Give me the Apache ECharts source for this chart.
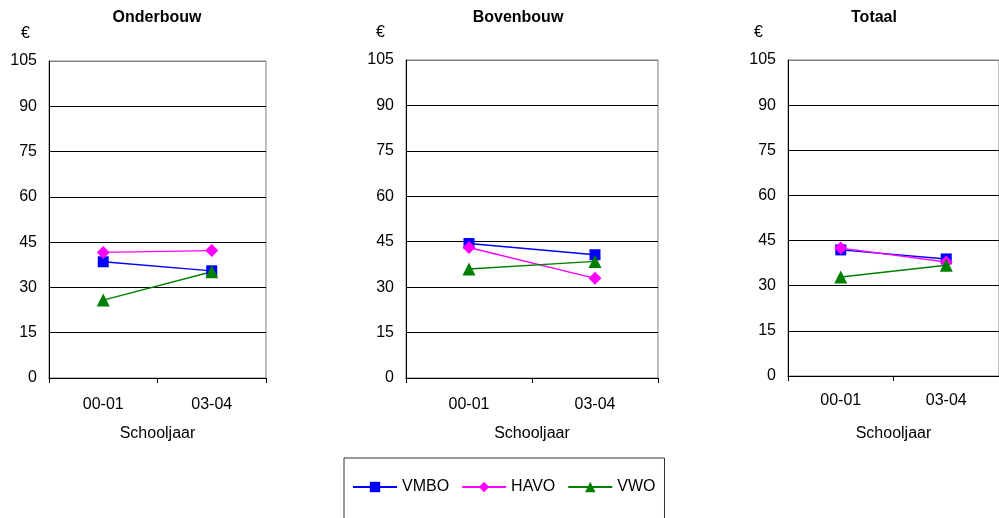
<!DOCTYPE html>
<html><head><meta charset="utf-8">
<script src="https://cdn.jsdelivr.net/npm/echarts@6/dist/echarts.min.js"></script>
<style>html,body{margin:0;padding:0;background:#fff}#c{width:999px;height:518px}</style>
</head><body><div id="c"></div>
<script>
// ---- data ----
const categories = ['00-01', '03-04'];
const panelTitles = ['Onderbouw', 'Bovenbouw', 'Totaal'];
const seriesNames = ['VMBO', 'HAVO', 'VWO'];
const yMin = 0, yMax = 105, yStep = 15;
const yAxisName = '€';
const xAxisName = 'Schooljaar';
const vmbo = [[38.5, 35.5], [44.4, 40.7], [41.9, 38.9]];
const havo = [[41.6, 42.2], [43.1, 32.9], [42.5, 37.9]];
const vwo  = [[25.8, 35.2], [36.0, 38.5], [32.9, 36.8]];

// ---- layout / style ----
const FONT = '"Liberation Sans", Arial, sans-serif';
const grids = [
  {left: 49, top: 61, width: 217, height: 317},
  {left: 406, top: 60, width: 252, height: 318},
  {left: 788, top: 60, width: 219, height: 316}
];
const titleX = [157, 518, 874];
const euroPad = [19, 21, 25];
const xLabelMargin = [19, 19, 17];
const xNameGap = [48, 48, 50];
const colors = ['#0000FF', '#FF00FF', '#008000'];
const symbols = ['rect', 'diamond', 'triangle'];
const symbolSizes = [11, 13, 13];
const allData = [vmbo, havo, vwo];

const titles = panelTitles.map((t, i) => ({
  text: t, left: titleX[i], top: 10, textAlign: 'center', padding: 0,
  textStyle: {fontFamily: FONT, fontSize: 16, fontWeight: 'bold', color: '#000'}
}));

const xAxes = grids.map((g, i) => ({
  type: 'category', gridIndex: i, data: categories, boundaryGap: true,
  name: xAxisName, nameLocation: 'middle', nameGap: xNameGap[i],
  nameTextStyle: {fontFamily: FONT, fontSize: 16, color: '#000'},
  axisLine: {lineStyle: {color: '#000', width: 1}},
  axisTick: {show: true, length: 5, lineStyle: {color: '#000'}},
  axisLabel: {fontFamily: FONT, fontSize: 16, color: '#000', margin: xLabelMargin[i]},
  splitLine: {show: false}
}));

const yAxes = grids.map((g, i) => ({
  type: 'value', gridIndex: i, min: yMin, max: yMax, interval: yStep,
  name: yAxisName, nameLocation: 'end', nameGap: 19,
  nameTextStyle: {fontFamily: FONT, fontSize: 16, color: '#000', align: 'right', padding: [0, euroPad[i], 0, 0]},
  axisLine: {show: true, lineStyle: {color: '#000', width: 1}},
  axisTick: {show: false},
  axisLabel: {fontFamily: FONT, fontSize: 16, color: '#000', margin: 12},
  splitLine: {show: true, lineStyle: {color: ['#000', '#000', '#000', '#000', '#000', '#000', '#000', '#808080'], width: 1}}
}));

const series = [];
grids.forEach((g, p) => {
  seriesNames.forEach((name, s) => {
    series.push({
      type: 'line', name: name, xAxisIndex: p, yAxisIndex: p,
      data: allData[s][p],
      symbol: symbols[s], symbolSize: symbolSizes[s], showAllSymbol: true,
      lineStyle: {color: colors[s], width: 1.4},
      itemStyle: {color: colors[s]},
      emphasis: {disabled: true}
    });
  });
});

const chart = echarts.init(document.getElementById('c'), null, {renderer: 'canvas'});
chart.setOption({
  animation: false,
  backgroundColor: '#fff',
  title: titles,
  grid: grids.map(g => Object.assign({show: true, borderColor: '#808080', borderWidth: 1, backgroundColor: '#fff'}, g)),
  xAxis: xAxes,
  yAxis: yAxes,
  legend: {
    data: seriesNames,
    left: 344, top: 458, orient: 'horizontal',
    itemWidth: 44, itemHeight: 13, itemGap: 12,
    padding: [21, 9, 40, 8],
    borderColor: '#333', borderWidth: 1,
    textStyle: {fontFamily: FONT, fontSize: 16, color: '#000'}
  },
  series: series
});
</script></body></html>
